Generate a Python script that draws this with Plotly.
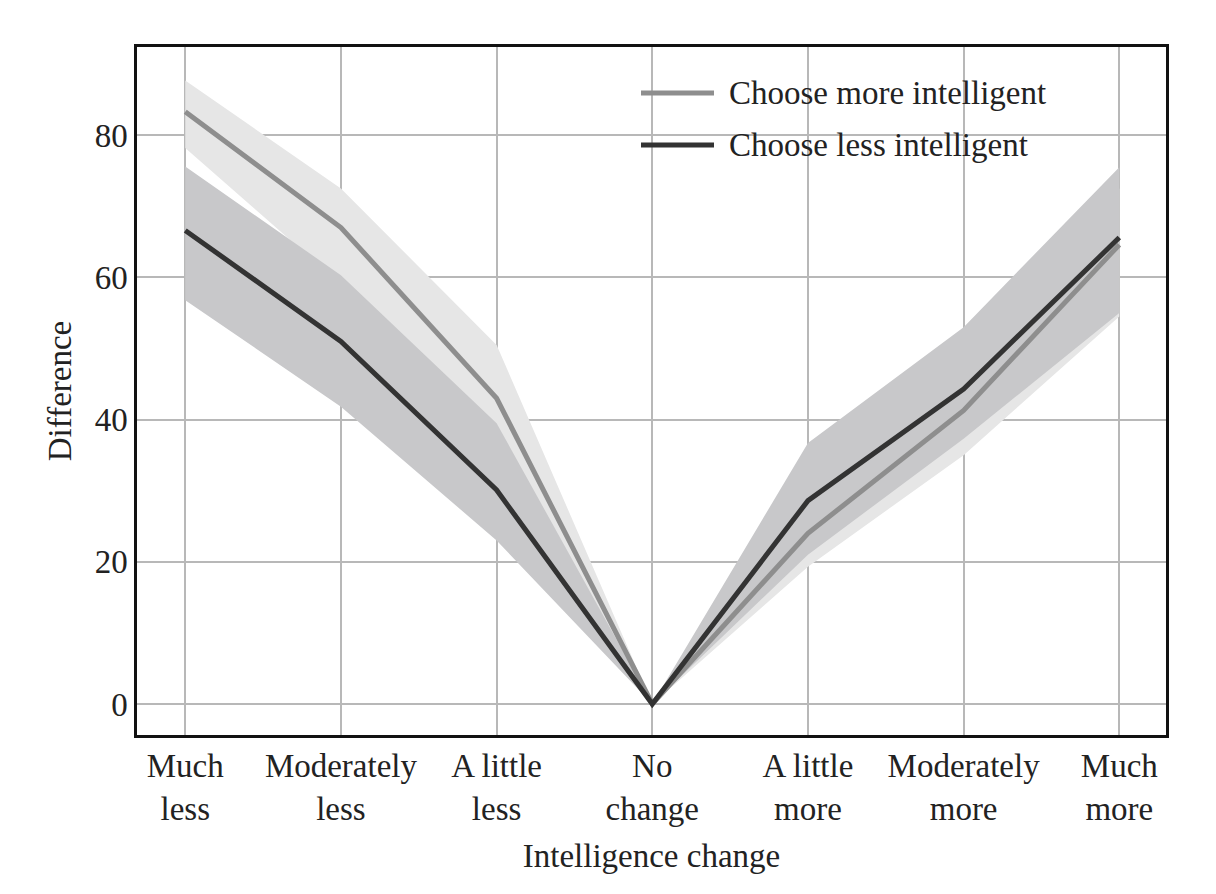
import plotly.graph_objects as go

categories = ["Much<br>less", "Moderately<br>less", "A little<br>less", "No<br>change",
              "A little<br>more", "Moderately<br>more", "Much<br>more"]
x_idx = list(range(len(categories)))

more_mean = [83.3, 67.0, 43.0, 0, 24.0, 41.3, 64.6]
more_upper = [87.7, 72.5, 50.5, 0, 28.5, 47.5, 72.5]
more_lower = [78.2, 59.0, 36.0, 0, 19.3, 35.0, 54.5]

less_mean = [66.6, 51.0, 30.1, 0, 28.6, 44.3, 65.6]
less_upper = [75.6, 60.3, 39.5, 0, 36.7, 53.0, 75.5]
less_lower = [56.8, 41.8, 23.0, 0, 21.0, 37.3, 55.0]

y_ticks = [0, 20, 40, 60, 80]
series_names = ["Choose more intelligent", "Choose less intelligent"]

FONT = "Liberation Serif"
FS = 33
LIGHT_LINE = "#8e8e8e"
DARK_LINE = "#333333"
LIGHT_BAND = "#e6e6e6"
DARK_BAND = "#c8c8ca"
GRID = "#b8b8b8"

fig = go.Figure()

def band(upper, lower, color):
    return go.Scatter(
        x=x_idx + x_idx[::-1],
        y=upper + lower[::-1],
        fill="toself", fillcolor=color, mode="lines",
        line=dict(width=0, color=color), hoverinfo="skip", showlegend=False,
    )

fig.add_trace(band(more_upper, more_lower, LIGHT_BAND))
fig.add_trace(band(less_upper, less_lower, DARK_BAND))
fig.add_trace(go.Scatter(x=x_idx, y=more_mean, mode="lines", name=series_names[0],
                         line=dict(color=LIGHT_LINE, width=5), showlegend=False))
fig.add_trace(go.Scatter(x=x_idx, y=less_mean, mode="lines", name=series_names[1],
                         line=dict(color=DARK_LINE, width=5), showlegend=False))

# target plot-area geometry in screenshot pixels (page has an 8px body margin)
OFF = 8
L, R, T, B = 137, 1166, 47, 735
W, H = 1216, 894
pw, ph = R - L, B - T

def px(xp):
    return (xp - L) / pw

def py(yp):
    return (B - yp) / ph

# manual legend
shapes = [dict(type="rect", xref="paper", yref="paper", layer="between",
               x0=px(627), x1=px(1057), y0=py(175), y1=py(67),
               fillcolor="white", line=dict(width=0))]
annotations = []
for yp, col, name in [(93, LIGHT_LINE, series_names[0]), (145, DARK_LINE, series_names[1])]:
    shapes.append(dict(type="line", xref="paper", yref="paper",
                       x0=px(641), x1=px(714), y0=py(yp), y1=py(yp),
                       line=dict(color=col, width=5)))
    annotations.append(dict(xref="paper", yref="paper", x=px(727), y=py(yp),
                            text=name, showarrow=False, xanchor="left", yanchor="middle",
                            font=dict(family=FONT, size=FS, color="#222222")))

fig.update_layout(
    width=W, height=H,
    margin=dict(l=L - OFF, r=W - R + OFF, t=T - OFF, b=H - B + OFF, pad=0),
    paper_bgcolor="white", plot_bgcolor="white",
    font=dict(family=FONT, size=FS, color="#222222"),
    shapes=shapes, annotations=annotations,
    showlegend=False,
)
fig.update_xaxes(
    range=[-0.31, 6.30], tickmode="array", tickvals=x_idx, ticktext=categories,
    showgrid=True, gridcolor=GRID, gridwidth=2,
    showline=True, linecolor="#111111", linewidth=2.5, mirror=True,
    ticks="", zeroline=False,
    title=dict(text="Intelligence change", standoff=18, font=dict(size=FS)),
    tickfont=dict(size=FS),
)
fig.update_yaxes(
    range=[-4.36, 92.4], tickmode="array", tickvals=y_ticks,
    showgrid=True, gridcolor=GRID, gridwidth=2,
    showline=True, linecolor="#111111", linewidth=2.5, mirror=True,
    ticks="", zeroline=False,
    title=dict(text="Difference", standoff=14, font=dict(size=FS)),
    tickfont=dict(size=FS),
)

fig.write_html("out.html")
